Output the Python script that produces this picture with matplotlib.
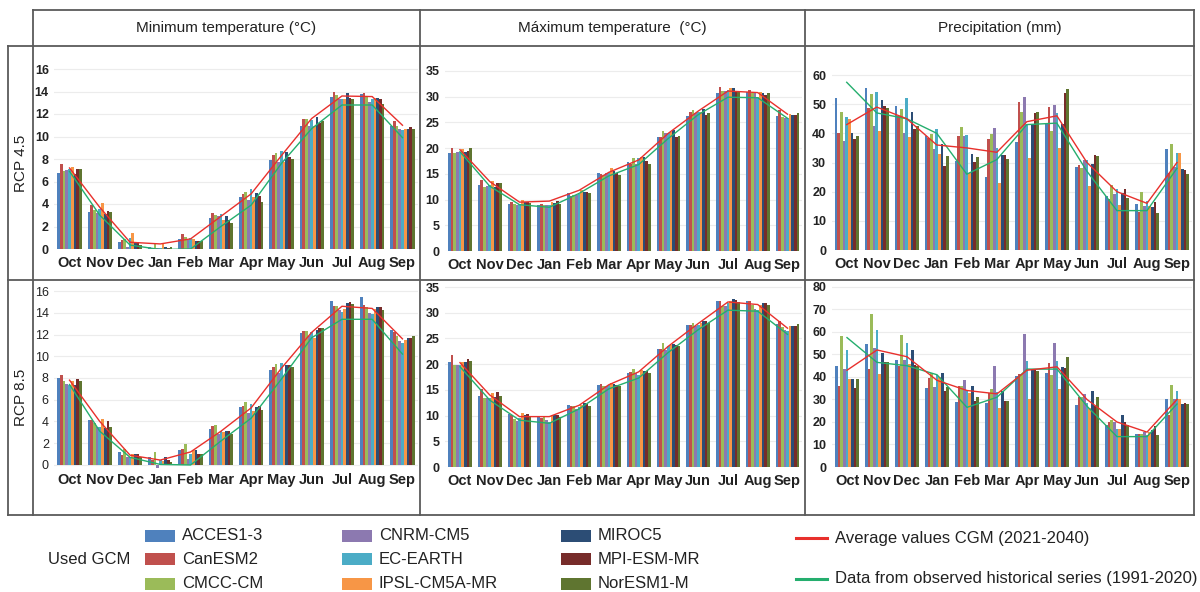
import numpy as np
import matplotlib
matplotlib.use("Agg")
import matplotlib.pyplot as plt
from matplotlib.patches import Rectangle

plt.rcParams['font.family'] = ['Liberation Sans', 'DejaVu Sans']

# ---- data ----
months = ['Oct', 'Nov', 'Dec', 'Jan', 'Feb', 'Mar', 'Apr', 'May', 'Jun', 'Jul', 'Aug', 'Sep']
models = ['ACCES1-3', 'CanESM2', 'CMCC-CM', 'CNRM-CM5', 'EC-EARTH',
          'IPSL-CM5A-MR', 'MIROC5', 'MPI-ESM-MR', 'NorESM1-M']
colors = ['#4F81BD', '#C0504D', '#9BBB59', '#8C79B0', '#4BACC6',
          '#F79646', '#2C4D75', '#772C2A', '#5F7530']
columns = ['Minimum temperature (°C)', 'Máximum temperature  (°C)', 'Precipitation (mm)']
rows = ['RCP 4.5', 'RCP 8.5']

# one row per month, one value per model (same order as models)
tmin45 = [
    [6.8, 7.6, 6.9, 7.0, 7.1, 7.3, 6.7, 7.1, 7.1],
    [3.3, 3.9, 3.5, 3.2, 3.6, 4.1, 3.1, 3.4, 3.3],
    [0.6, 0.8, 0.85, 0.2, 1.0, 1.4, 0.65, 0.6, 0.35],
    [0.15, 0.1, 0.45, 0.05, 0.1, 0.45, 0.2, 0.1, 0.15],
    [0.9, 1.3, 1.1, 0.8, 1.0, 0.9, 0.75, 0.75, 0.75],
    [2.75, 3.2, 3.0, 2.9, 3.1, 2.6, 2.9, 2.6, 2.3],
    [4.6, 4.9, 5.1, 4.4, 5.3, 4.65, 5.0, 4.7, 4.2],
    [7.9, 8.35, 8.5, 7.7, 8.7, 7.7, 8.6, 8.2, 8.0],
    [10.9, 11.6, 11.55, 10.9, 11.5, 10.9, 11.7, 11.2, 11.35],
    [13.5, 14.0, 13.65, 13.3, 13.3, 13.3, 13.85, 13.45, 13.3],
    [13.75, 13.85, 13.5, 13.1, 13.3, 13.4, 13.4, 13.35, 12.85],
    [10.9, 11.4, 10.9, 10.7, 10.6, 10.7, 10.7, 10.8, 10.7],
]
tmax45 = [
    [19.1, 20.1, 19.0, 19.2, 19.3, 19.8, 19.3, 19.5, 20.0],
    [12.8, 13.8, 12.5, 12.6, 12.8, 13.6, 12.5, 13.2, 13.2],
    [9.1, 9.6, 9.1, 8.9, 9.1, 9.9, 9.5, 9.6, 9.3],
    [8.9, 9.1, 8.9, 8.9, 8.9, 9.5, 9.4, 9.7, 9.1],
    [11.2, 10.6, 10.8, 10.8, 11.1, 11.9, 11.5, 11.4, 11.2],
    [15.1, 14.9, 14.8, 15.1, 15.4, 16.1, 15.6, 15.1, 14.8],
    [17.4, 17.0, 18.0, 17.0, 18.0, 18.3, 18.2, 17.5, 16.9],
    [22.1, 22.1, 23.3, 22.9, 23.0, 23.2, 23.5, 22.2, 22.4],
    [26.2, 27.1, 27.4, 26.8, 27.1, 27.1, 27.7, 26.4, 26.8],
    [30.8, 31.9, 31.2, 31.1, 31.4, 31.6, 31.6, 31.0, 31.0],
    [31.0, 31.4, 30.8, 30.7, 30.0, 31.0, 30.8, 30.3, 30.7],
    [26.2, 27.4, 26.1, 25.9, 25.8, 26.6, 26.4, 26.4, 26.9],
]
prec45 = [
    [52.2, 40.2, 47.4, 37.4, 45.5, 44.9, 40.2, 38.1, 39.2],
    [55.7, 48.6, 53.4, 42.6, 54.1, 40.8, 51.4, 49.4, 48.8],
    [49.4, 46.1, 48.2, 40.2, 52.0, 38.9, 47.4, 41.5, 42.5],
    [39.1, 38.3, 39.8, 34.6, 41.4, 32.9, 36.3, 28.8, 32.3],
    [30.5, 39.1, 42.1, 39.1, 39.3, 26.3, 32.9, 30.3, 31.8],
    [25.1, 37.9, 39.8, 41.7, 34.9, 22.9, 32.6, 32.6, 31.1],
    [36.9, 50.6, 47.4, 52.3, 43.2, 31.7, 43.2, 46.9, 47.4],
    [43.4, 49.1, 40.9, 49.7, 46.9, 35.1, 43.2, 53.7, 55.2],
    [28.3, 29.1, 28.0, 30.9, 30.9, 21.9, 29.4, 32.6, 32.2],
    [18.6, 17.5, 22.3, 19.1, 20.8, 15.4, 19.7, 20.8, 17.7],
    [15.8, 12.9, 19.8, 15.2, 16.9, 15.1, 14.9, 16.6, 12.6],
    [34.6, 26.5, 36.2, 28.3, 33.1, 33.1, 27.7, 27.4, 26.1],
]
tmin85 = [
    [8.0, 8.3, 7.7, 7.45, 7.35, 7.7, 7.4, 7.9, 7.7],
    [4.1, 4.1, 3.9, 3.5, 3.5, 4.2, 3.4, 4.0, 3.5],
    [1.2, 0.9, 1.45, 0.75, 0.75, 1.0, 1.0, 1.0, 0.75],
    [0.7, 0.45, 1.15, -0.3, 0.5, 0.35, 0.7, 0.45, 0.3],
    [1.4, 1.5, 1.9, 0.55, 1.0, 1.4, 1.4, 1.05, 1.0],
    [3.35, 3.6, 3.7, 2.85, 3.15, 3.0, 3.15, 3.15, 2.85],
    [5.3, 5.45, 5.75, 4.75, 5.6, 5.0, 5.35, 5.45, 5.05],
    [8.7, 9.0, 9.25, 8.45, 9.35, 8.2, 9.15, 9.15, 9.05],
    [12.1, 12.3, 12.35, 11.9, 12.25, 11.65, 12.4, 12.6, 12.6],
    [15.1, 14.65, 14.6, 14.25, 14.1, 14.35, 14.9, 15.0, 14.8],
    [15.45, 14.7, 14.55, 14.0, 13.85, 14.35, 14.5, 14.5, 14.3],
    [12.4, 12.25, 11.85, 11.4, 11.2, 11.5, 11.65, 11.7, 11.85],
]
tmax85 = [
    [20.5, 21.8, 19.9, 19.8, 19.8, 20.5, 20.5, 21.1, 20.6],
    [13.8, 15.1, 13.4, 13.4, 13.5, 14.3, 13.7, 14.5, 13.8],
    [10.3, 10.1, 9.4, 9.0, 9.6, 10.5, 10.1, 10.3, 9.9],
    [9.8, 9.5, 9.9, 9.2, 8.7, 10.1, 10.1, 10.1, 9.7],
    [12.1, 11.9, 11.9, 11.2, 11.6, 12.1, 12.4, 12.3, 11.9],
    [15.9, 16.1, 15.8, 15.8, 15.9, 16.4, 16.1, 15.9, 15.8],
    [18.3, 18.5, 19.0, 18.2, 17.9, 18.8, 18.7, 18.7, 18.2],
    [23.0, 22.9, 24.1, 22.7, 23.5, 23.7, 24.0, 23.8, 23.5],
    [27.6, 27.6, 28.0, 27.4, 27.7, 28.0, 28.3, 28.3, 28.0],
    [32.3, 32.3, 31.4, 31.4, 31.9, 32.3, 32.6, 32.5, 32.1],
    [32.3, 32.3, 31.6, 30.8, 30.5, 31.6, 31.8, 31.8, 31.6],
    [27.9, 28.4, 27.2, 26.7, 26.5, 27.5, 27.5, 27.5, 27.8],
]
prec85 = [
    [45.0, 36.2, 58.2, 43.4, 52.0, 39.3, 39.3, 35.3, 39.0],
    [54.5, 43.4, 67.8, 53.1, 60.8, 41.2, 50.8, 46.8, 46.8],
    [47.5, 44.9, 58.6, 47.5, 54.9, 45.6, 52.0, 45.3, 44.9],
    [35.0, 39.4, 41.9, 35.7, 40.9, 40.1, 41.6, 33.8, 35.7],
    [29.1, 36.0, 36.0, 38.7, 33.9, 32.8, 36.0, 29.5, 31.3],
    [28.3, 32.8, 34.5, 45.0, 33.5, 26.1, 33.8, 29.5, 29.4],
    [40.6, 41.2, 41.2, 58.9, 47.1, 30.3, 43.1, 43.1, 42.7],
    [41.9, 46.1, 40.9, 55.2, 47.1, 34.7, 44.3, 43.8, 48.7],
    [27.6, 31.3, 31.3, 32.5, 28.3, 26.1, 33.8, 27.2, 31.3],
    [18.5, 19.8, 21.0, 19.8, 16.8, 16.8, 23.2, 19.8, 18.5],
    [14.8, 14.8, 14.8, 15.4, 14.3, 15.4, 16.5, 18.3, 14.3],
    [30.1, 23.2, 36.5, 30.1, 33.8, 30.1, 28.0, 28.6, 28.0],
]

# average of the GCMs (red) and observed series (green)
avg_tmin45 = [7.2, 3.7, 0.6, 0.45, 0.9, 2.9, 4.9, 8.3, 11.6, 13.6, 13.55, 11.0]
obs_tmin45 = [6.9, 3.0, 0.35, -0.05, 0.0, 2.0, 3.9, 7.6, 10.7, 12.8, 12.8, 9.9]
avg_tmax45 = [19.7, 13.5, 9.5, 9.7, 11.8, 15.3, 17.7, 22.9, 27.2, 31.1, 30.8, 26.6]
obs_tmax45 = [19.3, 12.6, 9.0, 8.5, 11.2, 14.6, 16.8, 21.9, 26.5, 29.9, 29.8, 25.8]
avg_prec45 = [43.0, 49.0, 45.0, 36.0, 35.0, 33.5, 44.0, 46.0, 30.0, 20.0, 16.0, 30.0]
obs_prec45 = [57.5, 47.0, 45.0, 40.0, 26.0, 31.0, 43.0, 43.5, 27.0, 13.5, 13.5, 28.0]
avg_tmin85 = [7.8, 4.0, 0.9, 0.45, 1.2, 3.1, 5.25, 8.9, 12.2, 14.6, 14.4, 11.6]
obs_tmin85 = [7.4, 3.1, 0.7, 0.05, 0.0, 2.2, 4.3, 7.9, 11.7, 13.4, 13.4, 10.2]
avg_tmax85 = [20.3, 14.0, 9.8, 9.8, 12.0, 16.0, 18.5, 23.5, 27.9, 32.1, 31.6, 27.0]
obs_tmax85 = [19.5, 13.0, 9.1, 8.5, 11.3, 15.2, 17.3, 22.3, 26.7, 30.5, 30.3, 25.8]
avg_prec85 = [43.0, 52.0, 49.0, 38.5, 34.0, 32.5, 43.0, 44.5, 30.0, 20.0, 15.5, 30.0]
obs_prec85 = [57.5, 46.5, 45.0, 41.0, 26.5, 31.0, 43.5, 43.5, 27.0, 13.5, 13.5, 28.0]

# ---- layout (pixel positions on a 1200 x 592 canvas) ----
W, H = 1200, 592
fig = plt.figure(figsize=(W / 100, H / 100), dpi=100)

bg = fig.add_axes([0, 0, 1, 1])
bg.set_xlim(0, W)
bg.set_ylim(H, 0)
bg.axis('off')

frame = '#5a5a5a'
lw = 1.3
# table lines
bg.plot([33, 1194], [10, 10], color=frame, lw=lw)
for y in [46, 280, 515]:
    bg.plot([8, 1194], [y, y], color=frame, lw=lw)
for x in [33, 420, 805, 1194]:
    bg.plot([x, x], [10, 515], color=frame, lw=lw)
bg.plot([8, 8], [46, 515], color=frame, lw=lw)

for cx, title in zip([226, 612, 1000], columns):
    bg.text(cx, 28, title, ha='center', va='center', fontsize=11, color='#222222')
for cy, label in zip([163, 397], rows):
    bg.text(21, cy, label, ha='center', va='center', rotation=90, fontsize=11, color='#222222')


def px_rect(left, top, right, bottom):
    return [left / W, 1 - bottom / H, (right - left) / W, (bottom - top) / H]


panels = [
    # data, avg, obs, rect, ylim, step, bold ticks, month pad
    (tmin45, avg_tmin45, obs_tmin45, (54.4, 57.75, 417.6, 249), (0, 17), 2, True, 5),
    (tmax45, avg_tmax45, obs_tmax45, (445.1, 60.7, 802.4, 251), (0, 37), 5, True, 5),
    (prec45, avg_prec45, obs_prec45, (831.7, 57.5, 1192, 250), (0, 66), 10, True, 5),
    (tmin85, avg_tmin85, obs_tmin85, (54.4, 285.6, 417.6, 470.4), (-0.5, 16.5), 2, False, 2),
    (tmax85, avg_tmax85, obs_tmax85, (445.1, 281.9, 802.4, 467), (0, 36), 5, True, 5),
    (prec85, avg_prec85, obs_prec85, (832, 283.6, 1192, 467), (0, 81.5), 10, True, 5),
]

x = np.arange(len(months))
n = len(models)
bw = 0.8 / n

for data, avg, obs, rect, ylim, step, bold, mpad in panels:
    ax = fig.add_axes(px_rect(*rect))
    ax.set_facecolor('none')
    vals = np.array(data).T
    for i in range(n):
        ax.bar(x + (i - (n - 1) / 2) * bw, vals[i], width=bw, color=colors[i], zorder=2)
    ax.plot(x, obs, color='#25AE6E', lw=1.0, zorder=3)
    ax.plot(x, avg, color='#E8302C', lw=1.0, zorder=4)
    ax.set_xlim(-0.5, len(months) - 0.5)
    ax.set_ylim(*ylim)
    ax.set_yticks(np.arange(0, ylim[1] + 0.01, step))
    ax.set_xticks(x)
    ax.set_xticklabels(months, fontsize=10.5, fontweight='bold', color='#222222')
    for lab in ax.get_yticklabels():
        lab.set_fontsize(9)
        lab.set_fontweight('bold' if bold else 'normal')
        lab.set_color('#222222')
    ax.tick_params(axis='both', length=0)
    ax.tick_params(axis='x', pad=mpad)
    ax.tick_params(axis='y', pad=4)
    ax.grid(axis='y', color='#ececec', lw=0.8, zorder=0)
    ax.set_axisbelow(True)
    for s in ax.spines.values():
        s.set_visible(False)

# ---- legend ----
bg.text(48, 559, 'Used GCM', ha='left', va='center', fontsize=12, color='#222222')
col_x = [145, 342, 561]
row_y = [536, 559, 584]
for k, (name, c) in enumerate(zip(models, colors)):
    px = col_x[k // 3]
    py = row_y[k % 3]
    bg.add_patch(Rectangle((px, py - 6), 30, 12, facecolor=c, edgecolor='none'))
    bg.text(px + 37, py, name, ha='left', va='center', fontsize=12, color='#222222')

bg.plot([796, 827], [538, 538], color='#E8302C', lw=2.2)
bg.text(835, 538, 'Average values CGM (2021-2040)', ha='left', va='center', fontsize=12, color='#222222')
bg.plot([796, 827], [579, 579], color='#25AE6E', lw=2.2)
bg.text(835, 579, 'Data from observed historical series (1991-2020)', ha='left', va='center',
        fontsize=12, color='#222222')

fig.savefig('out.png', dpi=100, facecolor='white')
